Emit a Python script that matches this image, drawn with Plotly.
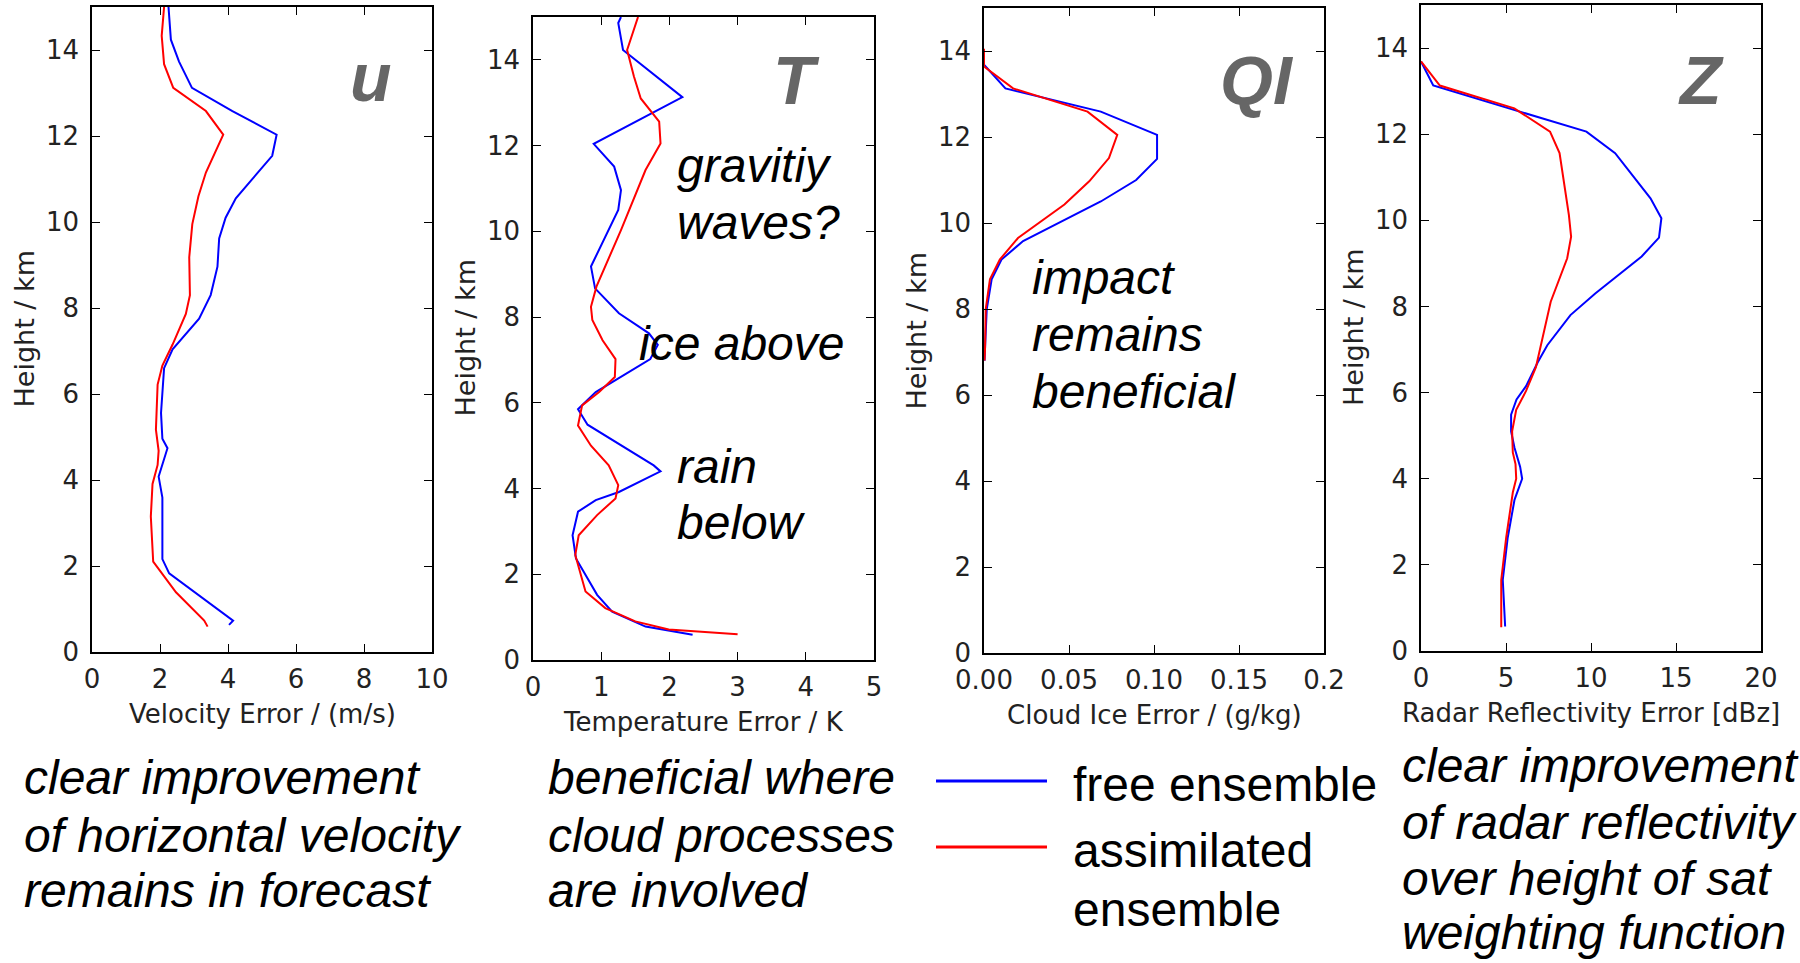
import plotly.graph_objects as go

# ---------------- data ----------------
# u : velocity error (m/s)
u_free_h = [0.63, 0.73, 1.83, 2.16, 3.59, 4.08, 4.74, 4.96, 5.56, 6.6, 7.04, 7.75, 8.3, 8.96, 9.62, 10.1, 10.55, 11.54, 12.03, 12.58, 13.12, 13.73, 14.24, 15.0]
u_free = [4.03, 4.15, 2.27, 2.07, 2.07, 1.96, 2.22, 2.07, 2.03, 2.12, 2.37, 3.15, 3.49, 3.69, 3.74, 3.93, 4.23, 5.3, 5.43, 4.13, 2.94, 2.56, 2.32, 2.25]
u_assim_h = [0.59, 0.73, 1.39, 1.83, 2.1, 3.15, 3.91, 4.35, 4.68, 5.17, 6.22, 6.66, 7.15, 7.86, 8.3, 9.18, 9.95, 10.6, 11.15, 12.03, 12.58, 13.12, 13.67, 14.33, 15.0]
u_assim = [3.4, 3.3, 2.47, 2.07, 1.8, 1.73, 1.78, 1.93, 1.96, 1.88, 1.93, 2.07, 2.37, 2.76, 2.88, 2.86, 2.95, 3.13, 3.35, 3.86, 3.35, 2.39, 2.12, 2.05, 2.12]

# T : temperature error (K)
t_free_h = [0.59, 0.78, 1.13, 1.52, 2.37, 2.91, 3.46, 3.73, 3.92, 4.40, 4.54, 5.49, 5.85, 6.25, 6.56, 7.02, 7.35, 7.62, 8.09, 8.67, 9.18, 10.03, 10.5, 10.96, 11.51, 12.04, 13.13, 14.23, 14.86, 15.0]
t_free = [2.34, 1.65, 1.16, 0.94, 0.63, 0.58, 0.66, 0.92, 1.26, 1.87, 1.77, 0.80, 0.66, 0.92, 1.24, 1.72, 1.83, 1.70, 1.26, 0.91, 0.85, 1.11, 1.25, 1.29, 1.19, 0.89, 2.19, 1.32, 1.25, 1.29]
t_assim_h = [0.6, 0.71, 0.9, 1.21, 1.6, 2.45, 2.91, 3.38, 3.77, 4.08, 4.54, 5.0, 5.47, 5.94, 6.25, 6.6, 7.02, 7.46, 7.93, 8.24, 8.71, 10.03, 11.43, 12.05, 12.56, 12.75, 13.1, 13.61, 14.23, 15.0]
t_assim = [3.0, 1.99, 1.50, 1.06, 0.77, 0.62, 0.67, 0.94, 1.21, 1.25, 1.11, 0.85, 0.66, 0.72, 0.97, 1.20, 1.21, 1.02, 0.87, 0.85, 0.93, 1.29, 1.65, 1.87, 1.85, 1.75, 1.58, 1.48, 1.38, 1.54]

# QI : cloud ice error (g/kg)
qi_free_h = [6.8, 7.06, 7.99, 8.69, 9.15, 9.58, 10.5, 11.0, 11.49, 12.05, 12.59, 13.13, 13.68]
qi_free = [0.0003, 0.0006, 0.0016, 0.0045, 0.0103, 0.023, 0.0687, 0.0895, 0.1018, 0.1018, 0.0687, 0.0126, 0.0]
qi_assim_h = [6.8, 7.06, 7.99, 8.69, 9.15, 9.65, 10.43, 10.97, 11.51, 12.05, 12.59, 13.13, 13.64, 14.05]
qi_assim = [0.0003, 0.0006, 0.001, 0.0035, 0.0093, 0.02, 0.0473, 0.0619, 0.0735, 0.0784, 0.0609, 0.0171, 0.0, 0.0]

# Z : radar reflectivity error (dBz)
z_free_h = [0.57, 1.65, 2.63, 3.51, 4.0, 4.28, 4.72, 5.1, 5.49, 5.84, 6.15, 6.7, 7.1, 7.8, 8.3, 9.16, 9.6, 10.05, 10.51, 11.56, 12.06, 12.57, 13.13, 13.69]
z_free = [4.95, 4.81, 5.1, 5.5, 5.95, 5.83, 5.5, 5.3, 5.3, 5.62, 6.18, 6.86, 7.43, 8.79, 10.25, 12.98, 14.0, 14.14, 13.5, 11.42, 9.73, 5.49, 0.72, 0.0]
z_assim_h = [0.55, 1.65, 2.63, 3.68, 4.0, 4.34, 4.61, 5.1, 5.6, 6.04, 6.59, 7.1, 8.11, 9.12, 9.62, 10.12, 11.56, 12.06, 12.6, 13.13, 13.69]
z_assim = [4.72, 4.72, 5.01, 5.4, 5.6, 5.56, 5.4, 5.36, 5.6, 6.18, 6.76, 7.05, 7.63, 8.6, 8.83, 8.7, 8.15, 7.59, 5.49, 1.11, 0.0]

series_names = ["free ensemble", "assimilated ensemble"]

panel_letters = ["u", "T", "QI", "Z"]
x_titles = ["Velocity Error / (m/s)", "Temperature Error / K", "Cloud Ice Error / (g/kg)", "Radar Reflectivity Error [dBz]"]
y_title = "Height / km"
x_ranges = [[0, 10], [0, 5], [0, 0.2], [0, 20]]
x_tickvals = [[0, 2, 4, 6, 8, 10], [0, 1, 2, 3, 4, 5], [0, 0.05, 0.1, 0.15, 0.2], [0, 5, 10, 15, 20]]
x_ticktext = [["0", "2", "4", "6", "8", "10"], ["0", "1", "2", "3", "4", "5"],
              ["0.00", "0.05", "0.10", "0.15", "0.2"], ["0", "5", "10", "15", "20"]]
y_tickvals = [0, 2, 4, 6, 8, 10, 12, 14]

# ---------------- layout geometry (pixels) ----------------
W, H = 1800, 963
panels_px = [(92, 432, 7, 652), (533, 874, 17, 660), (984, 1324, 8, 653), (1421, 1761, 5, 651)]

def px(x):
    return x / W

def py(y):
    return 1 - y / H

BLUE = "#0000ff"
RED = "#ff0000"

fig = go.Figure()
data = [(u_free_h, u_free, u_assim_h, u_assim),
        (t_free_h, t_free, t_assim_h, t_assim),
        (qi_free_h, qi_free, qi_assim_h, qi_assim),
        (z_free_h, z_free, z_assim_h, z_assim)]

for i, (fh, fv, ah, av) in enumerate(data):
    sfx = "" if i == 0 else str(i + 1)
    fig.add_trace(go.Scatter(x=fv, y=fh, mode="lines", name=series_names[0],
                             line=dict(color=BLUE, width=2), xaxis="x" + sfx, yaxis="y" + sfx,
                             showlegend=False))
    fig.add_trace(go.Scatter(x=av, y=ah, mode="lines", name=series_names[1],
                             line=dict(color=RED, width=2), xaxis="x" + sfx, yaxis="y" + sfx,
                             showlegend=False))

tickfont = dict(family="DejaVu Sans", size=26, color="#222")
axis_common = dict(showline=True, linecolor="black", linewidth=1.5, mirror="allticks",
                   ticks="inside", ticklen=8, tickwidth=1, tickcolor="black",
                   showgrid=False, zeroline=False, tickfont=tickfont, fixedrange=True,
                   automargin=False)

layout = dict(width=W, height=H, margin=dict(l=0, r=0, t=0, b=0, pad=0, autoexpand=False),
              paper_bgcolor="white", plot_bgcolor="white", showlegend=False)

annotations = []
for i, (l, r, t, b) in enumerate(panels_px):
    sfx = "" if i == 0 else str(i + 1)
    layout["xaxis" + sfx] = dict(axis_common, domain=[px(l), px(r)], range=x_ranges[i],
                                 tickvals=x_tickvals[i], ticktext=x_ticktext[i],
                                 anchor="y" + sfx, ticklabelstandoff=3)
    layout["yaxis" + sfx] = dict(axis_common, domain=[py(b), py(t)], range=[0, 15],
                                 tickvals=y_tickvals, anchor="x" + sfx, ticklabelstandoff=6)
    # axis titles
    annotations.append(dict(text=x_titles[i], xref="paper", yref="paper",
                            x=px((l + r) / 2), y=py(b + 62), xanchor="center", yanchor="middle",
                            showarrow=False, font=dict(family="DejaVu Sans", size=26, color="#222")))
    annotations.append(dict(text=y_title, xref="paper", yref="paper", textangle=-90,
                            x=px(l - 68), y=py((t + b) / 2), xanchor="center", yanchor="middle",
                            showarrow=False, font=dict(family="DejaVu Sans", size=27, color="#222")))

# big panel letters
letter_pos = [(371, 77), (796, 80), (1257, 80), (1701, 80)]
for letter, (x, y) in zip(panel_letters, letter_pos):
    annotations.append(dict(text="<b><i>%s</i></b>" % letter, xref="paper", yref="paper",
                            x=px(x), y=py(y), xanchor="center", yanchor="middle", showarrow=False,
                            font=dict(family="Liberation Sans", size=68, color="#666666")))

# in-plot comments
in_plot = [("gravitiy", 675, 166), ("waves?", 675, 222), ("ice above", 637, 344),
           ("rain", 675, 466), ("below", 675, 522),
           ("impact", 1030, 277), ("remains", 1030, 334), ("beneficial", 1030, 391)]
for txt, x, y in in_plot:
    annotations.append(dict(text="<i>%s</i>" % txt, xref="paper", yref="paper",
                            x=px(x), y=py(y), xanchor="left", yanchor="middle", showarrow=False,
                            font=dict(family="Liberation Sans", size=48, color="black")))

# bottom comments
bottom = [("clear improvement", 22, 777), ("of horizontal velocity", 22, 835), ("remains in forecast", 22, 890),
          ("beneficial where", 546, 777), ("cloud processes", 546, 835), ("are involved", 546, 890),
          ("clear improvement", 1400, 765), ("of radar reflectivity", 1400, 822),
          ("over height of sat", 1400, 878), ("weighting function", 1400, 932)]
for txt, x, y in bottom:
    annotations.append(dict(text="<i>%s</i>" % txt, xref="paper", yref="paper",
                            x=px(x), y=py(y), xanchor="left", yanchor="middle", showarrow=False,
                            font=dict(family="Liberation Sans", size=48, color="black")))

# legend (manual)
legend_items = [("free ensemble", 781, BLUE), ("assimilated", 847, RED)]
shapes = []
for name, y, col in legend_items:
    shapes.append(dict(type="line", xref="paper", yref="paper", x0=px(936), x1=px(1047),
                       y0=py(y), y1=py(y), line=dict(color=col, width=3)))
for txt, y in [("free ensemble", 784), ("assimilated", 850), ("ensemble", 909)]:
    annotations.append(dict(text=txt, xref="paper", yref="paper", x=px(1071), y=py(y),
                            xanchor="left", yanchor="middle", showarrow=False,
                            font=dict(family="Liberation Sans", size=48, color="black")))

layout["annotations"] = annotations
layout["shapes"] = shapes
fig.update_layout(**layout)
fig.write_html("out.html", config={"displayModeBar": False})
